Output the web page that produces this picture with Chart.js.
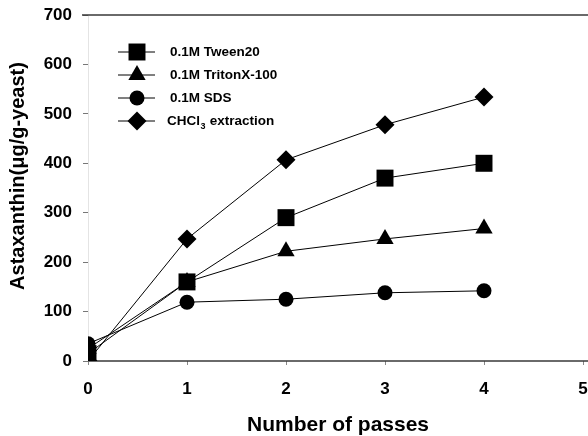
<!DOCTYPE html>
<html>
<head>
<meta charset="utf-8">
<script src="https://cdn.jsdelivr.net/npm/chart.js@4/dist/chart.umd.min.js"></script>
<style>
  html, body { margin: 0; padding: 0; background: #fff; }
  #wrap { width: 588px; height: 436px; }
</style>
</head>
<body>
<div id="wrap"><canvas id="passChart"></canvas></div>
<script>
const passes = [0, 1, 2, 3, 4];
const tween20 = [15, 160, 290, 370, 400];
const tritonX100 = [25, 160, 222, 247, 268];
const sds = [35, 119, 125, 138, 142];
const chcl3 = [0, 247, 407, 478, 534];
const seriesNames = ["0.1M Tween20", "0.1M TritonX-100", "0.1M SDS", "CHCl₃ extraction"];
const yTicks = [0, 100, 200, 300, 400, 500, 600, 700];
const xTicks = [0, 1, 2, 3, 4, 5];
const xTitle = "Number of passes";
const yTitle = "Astaxanthin(μg/g-yeast)";

const FONT = "'Liberation Sans', Arial, sans-serif";

function pts(vals) {
  return passes.map((p, i) => ({ x: p, y: vals[i] }));
}

function series(name, vals, style, r) {
  return {
    label: name,
    data: pts(vals),
    borderColor: "#000",
    borderWidth: 1,
    backgroundColor: "#000",
    pointBackgroundColor: "#000",
    pointBorderWidth: 0,
    pointStyle: style,
    pointRadius: r,
    pointHoverRadius: r,
    tension: 0,
    fill: false,
  };
}

// frame lines: top edge at 700 and the x axis, both run out to the canvas edge
const frameLines = {
  id: "frameLines",
  beforeDatasetsDraw(chart) {
    const { ctx, chartArea } = chart;
    ctx.save();
    ctx.strokeStyle = "#3a3a3a";
    ctx.lineWidth = 1.5;
    ctx.beginPath();
    ctx.moveTo(chartArea.left - 6, chartArea.top);
    ctx.lineTo(chart.width, chartArea.top);
    ctx.moveTo(chartArea.left, chartArea.bottom);
    ctx.lineTo(chart.width, chartArea.bottom);
    ctx.stroke();
    ctx.restore();
  },
};

// axis titles, placed by hand
const axisTitles = {
  id: "axisTitles",
  afterDraw(chart) {
    const ctx = chart.ctx;
    ctx.save();
    ctx.fillStyle = "#000";
    ctx.font = "bold 21px " + FONT;
    ctx.textAlign = "center";
    ctx.textBaseline = "alphabetic";
    ctx.fillText(xTitle, 338, 431);

    ctx.font = "bold 20px " + FONT;
    ctx.textBaseline = "middle";
    ctx.translate(18, 176);
    ctx.rotate(-Math.PI / 2);
    ctx.fillText(yTitle, 0, 0);
    ctx.restore();
  },
};

// legend in the upper left of the plot: line + marker + label
const legendBox = {
  id: "legendBox",
  afterDatasetsDraw(chart) {
    const ctx = chart.ctx;
    chart.data.datasets.forEach((ds, i) => {
      const y = 52 + i * 23;
      ctx.save();
      ctx.strokeStyle = "#000";
      ctx.fillStyle = "#000";
      ctx.lineWidth = 1;
      ctx.beginPath();
      ctx.moveTo(118, y);
      ctx.lineTo(155, y);
      ctx.stroke();
      Chart.helpers.drawPoint(ctx, {
        pointStyle: ds.pointStyle,
        radius: ds.pointRadius,
        borderWidth: 0,
        rotation: 0,
      }, 137, y);

      ctx.font = "bold 13.5px " + FONT;
      ctx.textBaseline = "middle";
      ctx.textAlign = "left";
      const label = ds.label;
      const sub = label.indexOf("₃");
      const x0 = i === 3 ? 167 : 170;
      if (sub < 0) {
        ctx.fillText(label, x0, y);
      } else {
        const head = label.slice(0, sub);
        const tail = label.slice(sub + 1);
        ctx.fillText(head, x0, y);
        let x = x0 + ctx.measureText(head).width;
        ctx.font = "bold 9px " + FONT;
        ctx.fillText("3", x + 0.5, y + 6);
        x += ctx.measureText("3").width + 1;
        ctx.font = "bold 13.5px " + FONT;
        ctx.fillText(tail, x, y);
      }
      ctx.restore();
    });
  },
};

new Chart(document.getElementById("passChart"), {
  type: "line",
  data: {
    datasets: [
      series(seriesNames[0], tween20, "rect", 12),
      series(seriesNames[1], tritonX100, "triangle", 10),
      series(seriesNames[2], sds, "circle", 7.5),
      series(seriesNames[3], chcl3, "rectRot", 9.5),
    ],
  },
  options: {
    responsive: true,
    maintainAspectRatio: false,
    animation: false,
    layout: { autoPadding: false, padding: { top: 15, right: 5, left: 0, bottom: 0 } },
    plugins: {
      legend: { display: false },
      tooltip: { enabled: false },
    },
    scales: {
      x: {
        type: "linear",
        min: 0,
        max: 5,
        afterBuildTicks: (s) => { s.ticks = xTicks.map((v) => ({ value: v })); },
        afterFit: (s) => {
          s.height = 75;
          s.paddingLeft = 0;
          s.paddingRight = 0;
        },
        border: { display: false },
        grid: { drawOnChartArea: false, tickLength: 4, color: "#888" },
        ticks: { color: "#000", padding: 14, font: { family: FONT, size: 17, weight: "bold" } },
      },
      y: {
        min: 0,
        max: 700,
        afterBuildTicks: (s) => { s.ticks = yTicks.map((v) => ({ value: v })); },
        afterFit: (s) => {
          s.width = 88;
          s.paddingTop = 0;
          s.paddingBottom = 0;
        },
        border: { display: true, color: "#e4e4e4", width: 1 },
        grid: { drawOnChartArea: false, tickLength: 5, color: "#777" },
        ticks: { color: "#000", padding: 11, font: { family: FONT, size: 17, weight: "bold" } },
      },
    },
  },
  plugins: [frameLines, legendBox, axisTitles],
});
</script>
</body>
</html>
